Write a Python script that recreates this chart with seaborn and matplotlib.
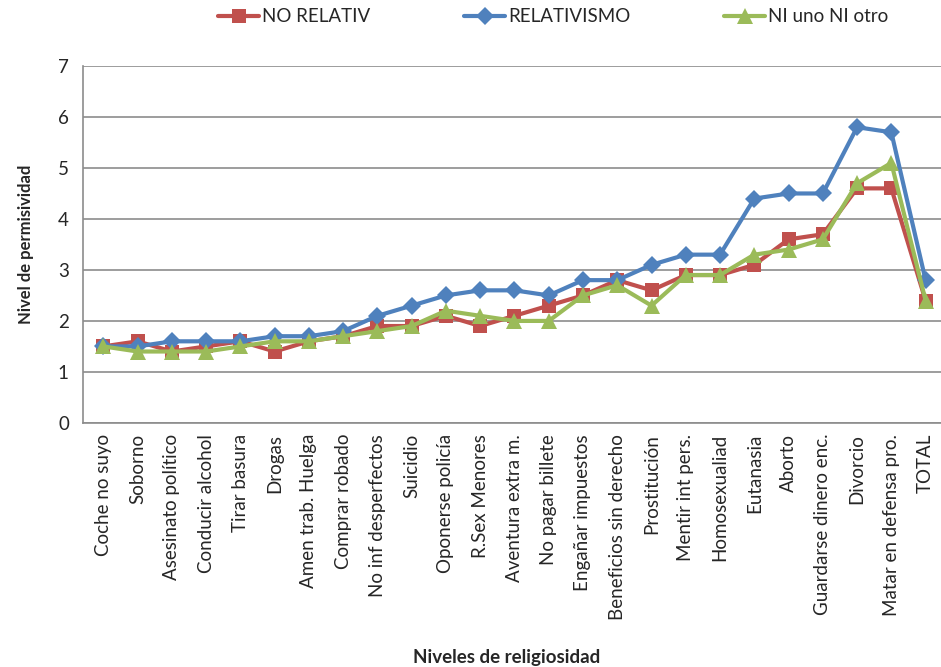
import matplotlib
matplotlib.use("Agg")
import matplotlib.pyplot as plt
from matplotlib.ticker import FixedLocator, NullFormatter
import seaborn as sns
import pandas as pd
import numpy as np

categories = [
    "Coche no suyo", "Soborno", "Asesinato político", "Conducir alcohol",
    "Tirar basura", "Drogas", "Amen trab. Huelga", "Comprar robado",
    "No inf desperfectos", "Suicidio", "Oponerse policía", "R.Sex Menores",
    "Aventura extra m.", "No pagar billete", "Engañar impuestos",
    "Beneficios sin derecho", "Prostitución", "Mentir int pers.",
    "Homosexualiad", "Eutanasia", "Aborto", "Guardarse dinero enc.",
    "Divorcio", "Matar en defensa pro.", "TOTAL",
]
no_relativ = [1.5, 1.6, 1.4, 1.5, 1.6, 1.4, 1.6, 1.7, 1.9, 1.9, 2.1, 1.9, 2.1,
              2.3, 2.5, 2.8, 2.6, 2.9, 2.9, 3.1, 3.6, 3.7, 4.6, 4.6, 2.4]
relativismo = [1.5, 1.5, 1.6, 1.6, 1.6, 1.7, 1.7, 1.8, 2.1, 2.3, 2.5, 2.6, 2.6,
               2.5, 2.8, 2.8, 3.1, 3.3, 3.3, 4.4, 4.5, 4.5, 5.8, 5.7, 2.8]
ni_uno = [1.5, 1.4, 1.4, 1.4, 1.5, 1.6, 1.6, 1.7, 1.8, 1.9, 2.2, 2.1, 2.0,
          2.0, 2.5, 2.7, 2.3, 2.9, 2.9, 3.3, 3.4, 3.6, 4.7, 5.1, 2.4]
series_names = ["NO RELATIV", "RELATIVISMO", "NI uno NI otro"]

df = pd.concat([
    pd.DataFrame({"pos": range(len(categories)), "valor": vals, "serie": name})
    for name, vals in zip(series_names, [no_relativ, relativismo, ni_uno])
])

palette = {"NO RELATIV": "#C0504D", "RELATIVISMO": "#4F81BD", "NI uno NI otro": "#9BBB59"}
markers = {"NO RELATIV": "s", "RELATIVISMO": "D", "NI uno NI otro": "^"}

sns.set_style("white")
plt.rcParams["font.family"] = ["Lato", "DejaVu Sans"]

fs = 13.5
fig = plt.figure(figsize=(9.41, 6.67), dpi=100)
ax = fig.add_axes([0.088, 0.366, 0.912, 0.535])

sns.lineplot(data=df, x="pos", y="valor", hue="serie", style="serie",
             palette=palette, markers=markers, dashes=False, sort=False,
             linewidth=3, markersize=10.5, markeredgewidth=0, ax=ax)

for line in ax.lines:
    if line.get_marker() == "D":
        line.set_markersize(9)
    elif line.get_marker() == "^":
        line.set_markersize(11.5)

ax.set_xlim(-0.6, len(categories) - 0.55)
ax.set_ylim(0, 7)
ax.set_yticks(range(0, 8))
ax.yaxis.grid(True, color="#8C8C8C", linewidth=1.2)
ax.set_axisbelow(True)

ax.set_xticks(range(len(categories)))
ax.set_xticklabels(categories, rotation=90, fontsize=fs)
ax.xaxis.set_minor_locator(FixedLocator(np.arange(-0.5, len(categories), 1.0)))
ax.xaxis.set_minor_formatter(NullFormatter())
ax.tick_params(axis="x", which="major", length=0, pad=8)
ax.tick_params(axis="x", which="minor", length=5, color="#8C8C8C", width=1)
ax.tick_params(axis="y", length=5, color="#8C8C8C", width=1, labelsize=fs, pad=5)

for side in ["top", "right"]:
    ax.spines[side].set_visible(False)
for side in ["left", "bottom"]:
    ax.spines[side].set_color("#8C8C8C")
    ax.spines[side].set_linewidth(1.2)

ax.set_xlabel("")
ax.set_ylabel("Nivel de permisividad", fontsize=12, fontweight="bold", labelpad=17)
fig.text(0.538, 1 - 658 / 667, "Niveles de religiosidad", ha="center", va="center",
         fontsize=fs, fontweight="bold")

handles, labels = ax.get_legend_handles_labels()
ax.legend_.remove()
fig.legend(handles, labels, loc="center", bbox_to_anchor=(0.588, 1 - 17 / 667),
           ncol=3, frameon=False, fontsize=fs, handlelength=2.2,
           columnspacing=5.0, handletextpad=0.15)

fig.savefig("out.png", dpi=100)
